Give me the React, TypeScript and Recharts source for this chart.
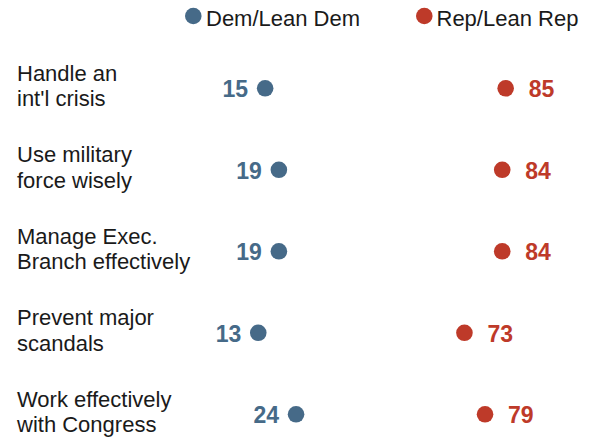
import { ScatterChart, Scatter, XAxis, YAxis, Legend } from "recharts";

const categories = [
  "Handle an\nint'l crisis",
  "Use military\nforce wisely",
  "Manage Exec.\nBranch effectively",
  "Prevent major\nscandals",
  "Work effectively\nwith Congress",
];
const demValues = [15, 19, 19, 13, 24];
const repValues = [85, 84, 84, 73, 79];
const seriesNames = ["Dem/Lean Dem", "Rep/Lean Rep"];

const DEM = "#466a88";
const REP = "#be3a29";
const FONT = '"Liberation Sans", Arial, sans-serif';

const demData = demValues.map((v, i) => ({ row: i, value: v }));
const repData = repValues.map((v, i) => ({ row: i, value: v }));

const CategoryTick = (props: any) => {
  const { y, payload } = props;
  const lines = categories[payload.value].split("\n");
  return (
    <text x={17} y={y} fontSize={22} fontFamily={FONT} fill="#1a1a1a">
      <tspan x={17} y={y - 7.5}>{lines[0]}</tspan>
      <tspan x={17} y={y + 18}>{lines[1]}</tspan>
    </text>
  );
};

// dot plus its number label; dem label sits left of the dot, rep label right
const makeDot = (color: string, side: "left" | "right") => (props: any) => {
  const { cx, cy, payload } = props;
  return (
    <g>
      <circle cx={cx} cy={cy} r={8.3} fill={color} />
      <text
        x={side === "left" ? cx - 17 : cx + 23}
        y={cy + 9}
        textAnchor={side === "left" ? "end" : "start"}
        fontSize={23}
        fontWeight="bold"
        fontFamily={FONT}
        fill={color}
      >
        {payload.value}
      </text>
    </g>
  );
};

const LegendContent = () => (
  <svg width={590} height={34}>
    <circle cx={193.3} cy={16} r={8.3} fill={DEM} />
    <text x={206} y={26} fontSize={22} fontFamily={FONT} fill="#1a1a1a">
      {seriesNames[0]}
    </text>
    <circle cx={424.3} cy={16} r={8.3} fill={REP} />
    <text x={436.5} y={26} fontSize={22} fontFamily={FONT} fill="#1a1a1a">
      {seriesNames[1]}
    </text>
  </svg>
);

export default function App() {
  return (
    <div style={{ position: "absolute", left: 0, top: 0, width: 590, height: 442, background: "#fff" }}>
      <ScatterChart width={590} height={442} margin={{ top: 88.3, right: 32.8, bottom: 27.7, left: 0 }}>
        <XAxis type="number" dataKey="value" domain={[0, 100]} hide />
        <YAxis
          type="number"
          dataKey="row"
          domain={[0, 4]}
          ticks={[0, 1, 2, 3, 4]}
          reversed
          width={213.6}
          axisLine={false}
          tickLine={false}
          tick={<CategoryTick />}
          interval={0}
        />
        <Legend
          verticalAlign="middle"
          align="center"
          layout="horizontal"
          wrapperStyle={{ top: 0, left: 0, width: 590, height: 34 }}
          content={<LegendContent />}
        />
        <Scatter name={seriesNames[0]} data={demData} fill={DEM} shape={makeDot(DEM, "left")} isAnimationActive={false} />
        <Scatter name={seriesNames[1]} data={repData} fill={REP} shape={makeDot(REP, "right")} isAnimationActive={false} />
      </ScatterChart>
    </div>
  );
}
